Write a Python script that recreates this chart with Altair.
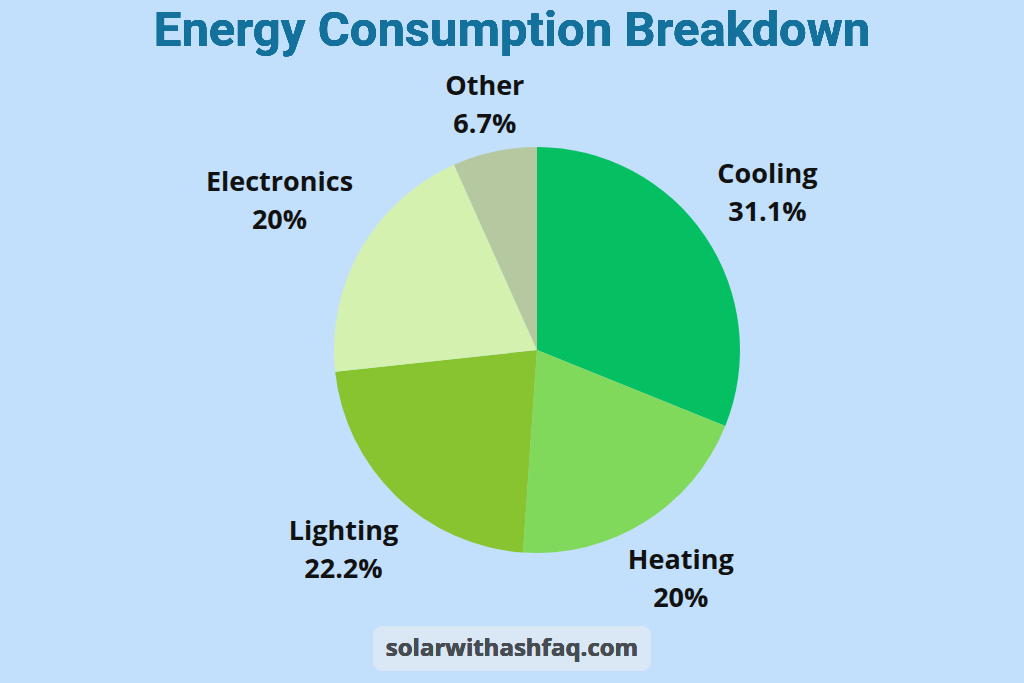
import altair as alt
import pandas as pd

categories = ["Cooling", "Heating", "Lighting", "Electronics", "Other"]
values = [31.1, 20.0, 22.2, 20.0, 6.7]
pct_labels = ["31.1%", "20%", "22.2%", "20%", "6.7%"]
colors = ["#05C062", "#80D95B", "#87C42F", "#D4F1AF", "#B5C89F"]

df = pd.DataFrame({
    "category": categories,
    "value": values,
    "order": list(range(len(categories))),
    "label": [f"{c}\n{p}" for c, p in zip(categories, pct_labels)],
})

PL, PT = 50, 17
W, H = 974, 666

theta = alt.Theta("value:Q", stack=True)
color = alt.Color("category:N", sort=categories,
                  scale=alt.Scale(domain=categories, range=colors), legend=None)
order = alt.Order("order:Q")

pie = alt.Chart(df).mark_arc(outerRadius=203).encode(
    theta=theta, color=color, order=order
)

# label distance from the centre, per slice (style only)
label_radius = {"Cooling": 278, "Heating": 271, "Lighting": 279,
                "Electronics": 297, "Other": 250}

label_layers = []
for cat, rad in label_radius.items():
    label_layers.append(
        alt.Chart(df).mark_text(
            radius=rad, dy=-19, fontSize=27, fontWeight="bold", font="Open Sans",
            color="#111111", lineBreak="\n", lineHeight=38,
            baseline="middle", align="center"
        ).encode(
            theta=theta, order=order, text="label:N",
            opacity=alt.condition(alt.datum.category == cat, alt.value(1), alt.value(0)),
        )
    )

title = alt.Chart(df).mark_text(
    text="Energy Consumption Breakdown", fontSize=49, fontWeight="bold",
    font="Roboto", color="#13719C", align="center", baseline="middle"
).encode(x=alt.value(512 - PL), y=alt.value(31 - PT))

badge = alt.Chart(df).mark_rect(cornerRadius=10, color="#DAE8F6").encode(
    x=alt.value(373 - PL), x2=alt.value(651 - PL),
    y=alt.value(626 - PT), y2=alt.value(671 - PT)
)
badge_text = alt.Chart(df).mark_text(
    text="solarwithashfaq.com", fontSize=24, fontWeight="bold", font="Open Sans",
    color="#474C52", align="center", baseline="middle"
).encode(x=alt.value(512 - PL), y=alt.value(649 - PT))

chart = alt.layer(pie, *label_layers, title, badge, badge_text).properties(
    width=W, height=H,
    padding={"left": PL, "top": PT, "right": 0, "bottom": 0},
    autosize=alt.AutoSizeParams(type="none"),
    background="#C2E0FB",
).configure_view(stroke=None)

chart.save("out.html", embed_options={"renderer": "svg", "actions": False})
